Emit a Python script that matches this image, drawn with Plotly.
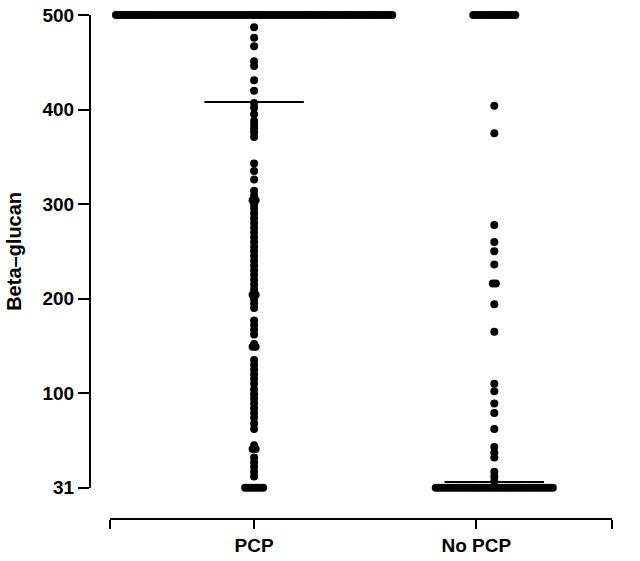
import plotly.graph_objects as go
from collections import Counter

# ---------------- data ----------------
groups = ["PCP", "No PCP"]
group_pos = [1, 2]            # where each group's dots are drawn
group_tick_pos = [1, 1.925]   # where each group's axis tick/label sits
# values below the detection limit are coded 0 and shown at the "31" tick
pcp_values = [500] * 93 + [
    487, 476, 467, 451, 446, 431, 420, 407, 402, 395, 388, 384, 380, 376, 371,
    343, 335, 326,
    314, 309, 304, 304, 299,
    295, 290, 285, 280, 275, 270, 265, 260, 255, 250, 245, 240, 235, 230,
    225, 220, 215, 210, 204, 204, 200, 195, 190,
    177, 172, 167, 162,
    152, 149, 149,
    135, 130, 125, 120, 115, 110,
    104, 99, 94, 89, 84, 79, 74,
    68, 62,
    45, 41, 41,
    32, 27, 22, 17, 12,
] + [0] * 7
nopcp_values = [500] * 15 + [
    404, 375, 278, 260, 250, 236, 216, 216, 194, 165, 110, 102, 89, 79,
    62, 43, 37, 32, 17, 12, 7,
] + [0] * 40
medians = [408, 6]

ytick_vals = [0, 100, 200, 300, 400, 500]
ytick_text = ["31", "100", "200", "300", "400", "500"]

# ---------------- layout helpers ----------------
W, H = 640, 561
ML, MR, MT, MB = 90, 28, 5, 40
x_lo, x_hi = 0.40, 2.49
dot_dx = 0.0125  # horizontal spacing of tied values (x units)


def stack_positions(center, values):
    counts = Counter(values)
    seen = Counter()
    xs, ys = [], []
    for v in values:
        k = counts[v]
        i = seen[v]
        seen[v] += 1
        xs.append(center + (i - (k - 1) / 2) * dot_dx)
        ys.append(v)
    return xs, ys


fig = go.Figure()
for pos, vals in zip(group_pos, [pcp_values, nopcp_values]):
    xs, ys = stack_positions(pos, vals)
    fig.add_trace(go.Scatter(
        x=xs, y=ys, mode="markers", cliponaxis=False,
        marker=dict(color="black", size=8, line=dict(width=0)),
        showlegend=False, hoverinfo="skip",
    ))

half = 0.207
for pos, m in zip(group_pos, medians):
    fig.add_trace(go.Scatter(
        x=[pos - half, pos + half], y=[m, m], mode="lines", cliponaxis=False,
        line=dict(color="black", width=2), showlegend=False, hoverinfo="skip",
    ))

plot_h = H - MT - MB
y_bottom_px = 489
ydom0 = (H - MB - y_bottom_px) / plot_h
xdom0 = (110 - ML) / (W - ML - MR)

FONT = "Liberation Sans, Arial, Helvetica, sans-serif"
bold = dict(family=FONT, size=19, color="black", weight="bold")

fig.update_layout(
    width=W, height=H,
    margin=dict(l=ML, r=MR, t=MT, b=MB, pad=0),
    plot_bgcolor="white", paper_bgcolor="white",
    xaxis=dict(
        domain=[xdom0, 1], range=[x_lo, x_hi], anchor="free", position=0,
        tickvals=[x_lo] + group_tick_pos + [x_hi], ticktext=[""] + groups + [""],
        showline=True, linecolor="black", linewidth=2,
        ticks="outside", ticklen=9, tickwidth=2, tickcolor="black",
        showgrid=False, zeroline=False, tickfont=bold,
        ticklabeloverflow="allow",
    ),
    yaxis=dict(
        domain=[ydom0, 1], range=[0, 500], anchor="free", position=0,
        tickvals=ytick_vals, ticktext=ytick_text,
        showline=True, linecolor="black", linewidth=2,
        ticks="outside", ticklen=11, tickwidth=2, tickcolor="black",
        showgrid=False, zeroline=False, tickfont=bold,
        ticklabeloverflow="allow",
        title=dict(text="Beta–glucan",
                   font=dict(family=FONT, size=20, color="black", weight="bold"),
                   standoff=14),
    ),
)

fig.write_html("out.html", config={"displayModeBar": False},
               post_script="document.body.style.margin='0';")
